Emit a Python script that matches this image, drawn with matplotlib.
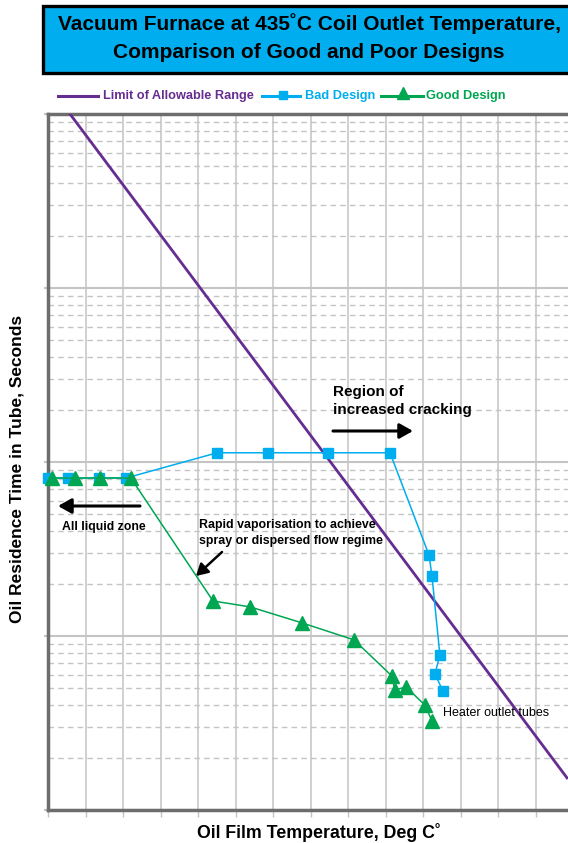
import matplotlib
matplotlib.use("Agg")
import matplotlib.pyplot as plt
from matplotlib.patches import Rectangle
from matplotlib.lines import Line2D
from matplotlib.ticker import LogLocator, MultipleLocator, NullFormatter

# ---- data ----
bad_x = [0.0, 0.53, 1.36, 2.08, 4.51, 5.87, 7.47, 9.12, 10.16, 10.24, 10.45, 10.32, 10.53]
bad_y = [8.09, 8.09, 8.09, 8.09, 11.3, 11.3, 11.3, 11.3, 2.92, 2.21, 0.778, 0.605, 0.483]

good_x = [0.11, 0.72, 1.39, 2.21, 4.40, 5.39, 6.77, 8.16, 9.17, 9.25, 9.55, 10.05, 10.24]
good_y = [8.09, 8.09, 8.09, 8.09, 1.59, 1.47, 1.19, 0.95, 0.589, 0.49, 0.509, 0.401, 0.325]

limit_x = [0.587, 13.84]
limit_y = [1000.0, 0.153]

title_lines = ["Vacuum Furnace at 435˚C Coil Outlet Temperature,",
               "Comparison of Good and Poor Designs"]
legend_labels = ["Limit of Allowable Range", "Bad Design", "Good Design"]

PURPLE = "#662D91"
BLUE = "#00AEEF"
GREEN = "#00A651"
GRID = "#c4c4c4"
SPINE = "#6d6d6d"

FONT = ["Liberation Sans", "DejaVu Sans"]
plt.rcParams["font.family"] = FONT

fig = plt.figure(figsize=(5.68, 8.43), dpi=100)
ax = fig.add_axes([48 / 568, 33 / 843, 520 / 568, 696 / 843])

ax.set_yscale("log")
ax.set_xlim(0, 520 / 37.5)
ax.set_ylim(0.1, 1000)

ax.xaxis.set_major_locator(MultipleLocator(1))
ax.yaxis.set_major_locator(LogLocator(base=10, numticks=10))
ax.yaxis.set_minor_locator(LogLocator(base=10, subs=range(2, 10), numticks=20))
ax.xaxis.set_major_formatter(NullFormatter())
ax.yaxis.set_major_formatter(NullFormatter())
ax.yaxis.set_minor_formatter(NullFormatter())

ax.grid(True, which="major", axis="x", color=GRID, lw=1.1, ls="-")
ax.grid(True, which="major", axis="y", color=GRID, lw=1.5, ls="-")
ax.grid(True, which="minor", axis="y", color=GRID, lw=1.0, ls=(0, (4, 3)))
ax.set_axisbelow(True)

ax.tick_params(axis="x", which="major", length=5, color=GRID, width=1, direction="out")
ax.tick_params(axis="y", which="major", length=3, color=GRID, width=1.5, direction="out")
ax.tick_params(axis="y", which="minor", length=0)

for s in ["left", "top", "bottom"]:
    ax.spines[s].set_color(SPINE)
    ax.spines[s].set_linewidth(2.5)
ax.spines["right"].set_visible(False)

ax.plot(limit_x, limit_y, color=PURPLE, lw=2.0, zorder=3, clip_on=True)
ax.plot(bad_x, bad_y, color=BLUE, lw=1.1, marker="s", ms=7, mec=BLUE, mfc=BLUE, zorder=4, clip_on=False)
ax.plot(good_x, good_y, color=GREEN, lw=1.1, marker="^", ms=9.5, mec=GREEN, mfc=GREEN, zorder=5, clip_on=False)

# annotations
arrow_kw = dict(arrowstyle="-|>,head_length=0.8,head_width=0.45", color="black", lw=2.2, shrinkA=0, shrinkB=0)

def px2data(px, py):
    x = (px - 48) / 37.5
    y = 10 ** ((638 - py) / 174.0)
    return x, y

ax.text(*px2data(333, 403), "Region of\nincreased cracking", fontsize=11, fontweight="bold",
        ha="left", va="center", linespacing=1.3, zorder=6)
ax.annotate("", xy=px2data(413, 433), xytext=px2data(333, 433), arrowprops=arrow_kw, zorder=6)

ax.text(*px2data(62, 529), "All liquid zone", fontsize=8.8, fontweight="bold",
        ha="left", va="center", zorder=6)
ax.annotate("", xy=px2data(58, 508), xytext=px2data(140, 508), arrowprops=arrow_kw, zorder=6)

ax.text(*px2data(199, 535), "Rapid vaporisation to achieve\nspray or dispersed flow regime", fontsize=8.9,
        fontweight="bold", ha="left", va="center", linespacing=1.4, zorder=6)
arrow_kw2 = dict(arrowstyle="-|>,head_length=0.7,head_width=0.4", color="black", lw=1.8, shrinkA=0, shrinkB=0)
ax.annotate("", xy=px2data(196, 578), xytext=px2data(222, 554), arrowprops=arrow_kw2, zorder=6)

ax.text(*px2data(443, 715), "Heater outlet tubes", fontsize=9.0, ha="left", va="center", zorder=6)

# title box
fig.patches.append(Rectangle((43 / 568, 1 - 73 / 843), 540 / 568, 67 / 843, transform=fig.transFigure,
                             facecolor=BLUE, edgecolor="black", lw=2.4, zorder=1))
fig.text(309 / 568, 1 - 24 / 843, title_lines[0], fontsize=15, fontweight="bold", ha="center", va="center")
fig.text(309 / 568, 1 - 52 / 843, title_lines[1], fontsize=15, fontweight="bold", ha="center", va="center")

# legend row
ly = 1 - 96 / 843
fig.add_artist(Line2D([58 / 568, 98 / 568], [ly, ly], color=PURPLE, lw=2.2, transform=fig.transFigure))
fig.text(103 / 568, ly, legend_labels[0], color=PURPLE, fontsize=9.2, fontweight="bold", ha="left", va="center")
fig.add_artist(Line2D([262 / 568, 300 / 568], [ly, ly], color=BLUE, lw=2.2, transform=fig.transFigure))
fig.add_artist(Line2D([283 / 568], [ly + 1 / 843], color=BLUE, marker="s", ms=6, transform=fig.transFigure))
fig.text(305 / 568, ly, legend_labels[1], color=BLUE, fontsize=9.2, fontweight="bold", ha="left", va="center")
fig.add_artist(Line2D([381 / 568, 423 / 568], [ly, ly], color=GREEN, lw=2.2, transform=fig.transFigure))
fig.add_artist(Line2D([403 / 568], [ly + 3 / 843], color=GREEN, marker="^", ms=8, transform=fig.transFigure))
fig.text(426 / 568, ly, legend_labels[2], color=GREEN, fontsize=9.2, fontweight="bold", ha="left", va="center")

# axis labels
fig.text(17 / 568, 1 - 469 / 843, "Oil Residence Time in Tube, Seconds", rotation=90, fontsize=12.5,
         fontweight="bold", ha="center", va="center")
fig.text(319 / 568, 1 - 832 / 843, "Oil Film Temperature, Deg C˚", fontsize=12.8, fontweight="bold",
         ha="center", va="center")

fig.savefig("out.png", dpi=100)
